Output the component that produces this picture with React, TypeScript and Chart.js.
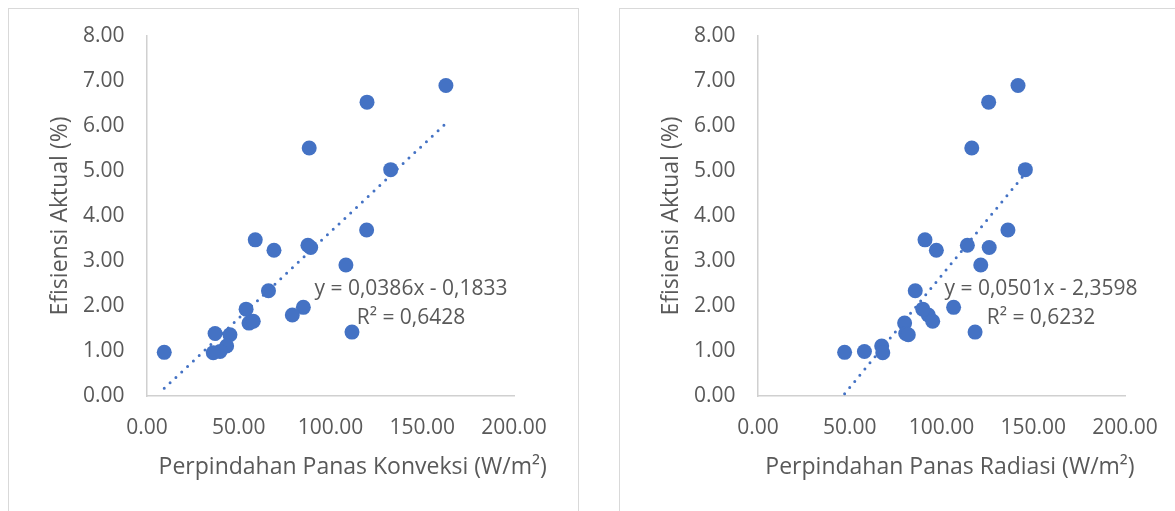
import React, { useEffect, useRef } from 'react';
import { Chart, registerables } from 'chart.js';

Chart.register(...registerables);

// ---- data ----
const efisiensiAktual = [6.9, 6.53, 5.51, 5.03, 3.69, 3.47, 3.24, 3.35, 3.3, 2.91, 2.34, 1.97, 1.8, 1.42, 1.93, 1.62, 1.66, 1.39, 1.36, 1.11, 0.99, 0.96, 0.97];
const konveksi = [162.9, 119.9, 88.4, 132.8, 119.7, 59.0, 69.2, 87.7, 89.2, 108.4, 66.2, 85.2, 79.2, 111.7, 54.0, 55.6, 57.9, 37.1, 45.2, 43.4, 39.8, 36.1, 9.4];
const radiasi = [141.7, 125.7, 116.5, 145.7, 136.2, 91.0, 97.2, 114.1, 126.0, 121.4, 85.7, 106.6, 92.8, 118.3, 89.8, 79.9, 95.2, 80.5, 81.9, 67.4, 58.0, 68.0, 47.2];

const trendKonveksiX = [9.4, 162.9];
const trendKonveksiY = [0.17, 6.06];
const trendRadiasiX = [47.2, 145.7];
const trendRadiasiY = [0.05, 4.95];

const yTickLabels = ['0.00', '1.00', '2.00', '3.00', '4.00', '5.00', '6.00', '7.00', '8.00'];
const xTickLabels = ['0.00', '50.00', '100.00', '150.00', '200.00'];

const yAxisTitle = 'Efisiensi Aktual (%)';
const konveksiTitle = 'Perpindahan Panas Konveksi (W/m²)';
const radiasiTitle = 'Perpindahan Panas Radiasi (W/m²)';
const konveksiEquation = ['y = 0,0386x - 0,1833', 'R² = 0,6428'];
const radiasiEquation = ['y = 0,0501x - 2,3598', 'R² = 0,6232'];

// ---- styling ----
const BLUE = '#4472C4';
const TEXT = '#595959';
const AXIS = '#d0d0d0';
const FONT = '"Open Sans", Lato, sans-serif';
const CANVAS_W = 569;
const CANVAS_H = 502;

const overlayPlugin = {
  id: 'overlay',
  afterDraw(chart: any, _args: any, opts: any) {
    const ctx = chart.ctx as CanvasRenderingContext2D;
    const area = chart.chartArea;
    ctx.save();
    ctx.fillStyle = TEXT;
    ctx.font = `${opts.eqSize}px ${FONT}`;
    ctx.textAlign = 'center';
    ctx.textBaseline = 'alphabetic';
    opts.eq.forEach((line: string, i: number) => {
      ctx.fillText(line, area.left + opts.eqDx, area.top + opts.eqDy + i * opts.eqGap);
    });
    ctx.font = `${opts.titleSize}px ${FONT}`;
    ctx.fillText(opts.xTitle, area.left + opts.xTitleDx, area.bottom + opts.xTitleDy);
    ctx.translate(opts.yTitleX, (area.top + area.bottom) / 2);
    ctx.rotate(-Math.PI / 2);
    ctx.textBaseline = 'middle';
    ctx.fillText(opts.yTitle, 0, 0);
    ctx.restore();
  },
};

type PanelProps = {
  left: number;
  xs: number[];
  ys: number[];
  trendX: number[];
  trendY: number[];
  xTitle: string;
  xTitleDx: number;
  eq: string[];
  eqDx: number;
};

function ScatterPanel(props: PanelProps) {
  const ref = useRef<HTMLCanvasElement | null>(null);
  useEffect(() => {
    if (!ref.current) return;
    const points = props.xs.map((x, i) => ({ x, y: props.ys[i] }));
    const trend = props.trendX.map((x, i) => ({ x, y: props.trendY[i] }));
    const tickFont = { family: FONT, size: 21 };
    const chart = new Chart(ref.current, {
      type: 'scatter',
      data: {
        datasets: [
          {
            data: points,
            backgroundColor: BLUE,
            borderColor: BLUE,
            borderWidth: 0,
            pointRadius: 7.5,
            pointHoverRadius: 7.5,
            order: 1,
          },
          {
            data: trend,
            showLine: true,
            borderColor: BLUE,
            borderWidth: 3,
            borderDash: [0, 8],
            borderCapStyle: 'round',
            pointRadius: 0,
            pointHoverRadius: 0,
            fill: false,
            order: 2,
          } as any,
        ],
      },
      options: {
        responsive: false,
        animation: false,
        devicePixelRatio: 1,
        events: [],
        layout: { padding: { left: 0, top: 27, right: 64, bottom: 0 } },
        plugins: {
          legend: { display: false },
          tooltip: { enabled: false },
          overlay: {
            eq: props.eq,
            eqDx: props.eqDx,
            eqDy: 259,
            eqGap: 29,
            eqSize: 21,
            xTitle: props.xTitle,
            xTitleDx: props.xTitleDx,
            xTitleDy: 78,
            titleSize: 23,
            yTitle: yAxisTitle,
            yTitleX: 51.6,
          },
        } as any,
        scales: {
          x: {
            type: 'linear',
            min: 0,
            max: 200,
            afterFit: (s: any) => {
              s.height = 115;
            },
            grid: { display: false, drawTicks: false },
            border: { display: true, color: AXIS, width: 1.5 },
            ticks: {
              stepSize: 50,
              padding: 19,
              color: TEXT,
              font: tickFont,
              maxRotation: 0,
              autoSkip: false,
              callback: (_v: any, i: number) => xTickLabels[i],
            },
          },
          y: {
            type: 'linear',
            min: 0,
            max: 8,
            afterFit: (s: any) => {
              s.width = 138;
              s.paddingTop = 0;
              s.paddingBottom = 0;
            },
            grid: { display: false, drawTicks: false },
            border: { display: true, color: AXIS, width: 1.5 },
            ticks: {
              stepSize: 1,
              padding: 22.5,
              color: TEXT,
              font: tickFont,
              autoSkip: false,
              callback: (_v: any, i: number) => yTickLabels[i],
            },
          },
        },
      },
      plugins: [overlayPlugin],
    });
    return () => chart.destroy();
  }, []);

  return (
    <div
      style={{
        position: 'absolute',
        left: props.left,
        top: 8,
        width: 571,
        height: 560,
        border: '1px solid #d9d9d9',
        boxSizing: 'border-box',
        background: '#fff',
      }}
    >
      <canvas
        ref={ref}
        width={CANVAS_W}
        height={CANVAS_H}
        style={{ position: 'absolute', left: 0, top: 0, width: CANVAS_W, height: CANVAS_H }}
      />
    </div>
  );
}

export default function App() {
  return (
    <div
      style={{
        position: 'fixed',
        left: 0,
        top: 0,
        width: 1175,
        height: 511,
        overflow: 'hidden',
        background: '#fff',
      }}
    >
      <ScatterPanel
        left={8}
        xs={konveksi}
        ys={efisiensiAktual}
        trendX={trendKonveksiX}
        trendY={trendKonveksiY}
        xTitle={konveksiTitle}
        xTitleDx={205.7}
        eq={konveksiEquation}
        eqDx={264}
      />
      <ScatterPanel
        left={619}
        xs={radiasi}
        ys={efisiensiAktual}
        trendX={trendRadiasiX}
        trendY={trendRadiasiY}
        xTitle={radiasiTitle}
        xTitleDx={192}
        eq={radiasiEquation}
        eqDx={283}
      />
    </div>
  );
}
